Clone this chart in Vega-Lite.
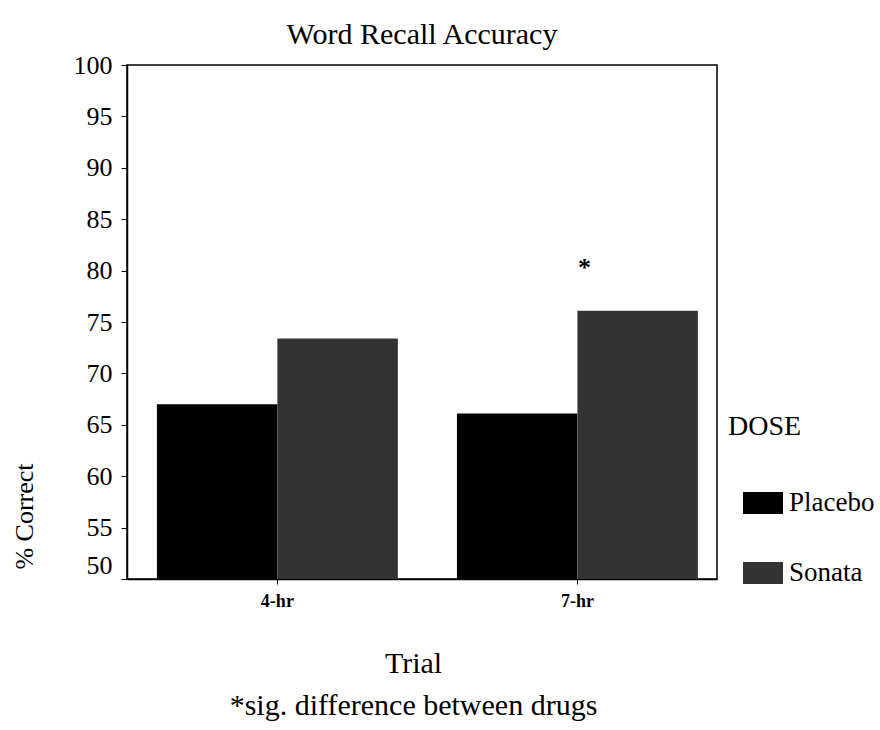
{
  "$schema": "https://vega.github.io/schema/vega-lite/v6.json",
  "width": 590,
  "height": 514,
  "autosize": {"type": "none"},
  "padding": {"left": 127, "top": 65, "right": 163, "bottom": 151},
  "background": "white",
  "config": {
    "font": "Liberation Serif",
    "view": {"stroke": "black", "strokeWidth": 1.5}
  },
  "title": {
    "text": "Word Recall Accuracy",
    "fontSize": 30,
    "font": "Liberation Serif",
    "fontWeight": "normal",
    "color": "black",
    "frame": "group",
    "offset": 2,
    "anchor": "middle"
  },
  "layer": [
    {
      "data": {
        "values": [
          {"trial": "4-hr", "dose": "Placebo", "pct": 67.0},
          {"trial": "4-hr", "dose": "Sonata", "pct": 73.4},
          {"trial": "7-hr", "dose": "Placebo", "pct": 66.1},
          {"trial": "7-hr", "dose": "Sonata", "pct": 76.1}
        ]
      },
      "mark": {"type": "bar", "strokeWidth": 0, "clip": true},
      "encoding": {
        "x": {
          "field": "trial",
          "type": "nominal",
          "scale": {"paddingInner": 0.197, "paddingOuter": 0.0817, "align": 0.61},
          "axis": {
            "labelAngle": 0,
            "labelFont": "Liberation Serif",
            "labelFontWeight": "bold",
            "labelFontSize": 18,
            "labelColor": "black",
            "labelPadding": 8,
            "tickSize": 5,
            "tickColor": "black",
            "domainColor": "black",
            "domainWidth": 1.5,
            "title": ["Trial", "*sig. difference between drugs"],
            "titleFont": "Liberation Serif",
            "titleFontSize": 30,
            "titleFontWeight": "normal",
            "titleColor": "black",
            "titleLineHeight": 42,
            "titlePadding": 38,
            "titleX": 286
          }
        },
        "xOffset": {"field": "dose", "type": "nominal", "scale": {"paddingInner": 0, "paddingOuter": 0}},
        "y": {
          "field": "pct",
          "type": "quantitative",
          "scale": {"domain": [50, 100], "nice": false, "zero": false},
          "axis": {
            "values": [50, 55, 60, 65, 70, 75, 80, 85, 90, 95, 100],
            "grid": false,
            "labelFont": "Liberation Serif",
            "labelFontSize": 26,
            "labelColor": "black",
            "labelPadding": 9,
            "labelOffset": {"condition": {"test": "datum.value === 50", "value": -14}, "value": 0},
            "tickSize": 6,
            "tickColor": "black",
            "domainColor": "black",
            "domainWidth": 1.5,
            "title": "% Correct",
            "titleFont": "Liberation Serif",
            "titleFontSize": 26,
            "titleFontWeight": "normal",
            "titleColor": "black",
            "titleAngle": 270,
            "titleAlign": "center",
            "titleBaseline": "middle",
            "titleX": -103,
            "titleY": 451
          }
        },
        "color": {
          "field": "dose",
          "type": "nominal",
          "scale": {"domain": ["Placebo", "Sonata"], "range": ["#000000", "#333333"]},
          "legend": {
            "title": "DOSE",
            "orient": "none",
            "legendX": 601,
            "legendY": 348,
            "titleFont": "Liberation Serif",
            "titleFontSize": 28,
            "titleFontWeight": "normal",
            "titleColor": "black",
            "titlePadding": 42,
            "labelFont": "Liberation Serif",
            "labelFontSize": 27,
            "labelColor": "black",
            "labelOffset": 6,
            "symbolType": "M-1,-0.55H1V0.55H-1Z",
            "symbolSize": 1600,
            "symbolStrokeWidth": 0,
            "symbolOffset": 15,
            "rowPadding": 37
          }
        }
      }
    },
    {
      "data": {"values": [{"trial": "7-hr", "label": "*", "pos": 80.3}]},
      "mark": {"type": "text", "fontSize": 26, "fontWeight": "bold", "font": "Liberation Serif", "color": "black", "dx": 7, "baseline": "middle"},
      "encoding": {
        "x": {"field": "trial", "type": "nominal"},
        "y": {"field": "pos", "type": "quantitative"},
        "text": {"field": "label"}
      }
    }
  ]
}
